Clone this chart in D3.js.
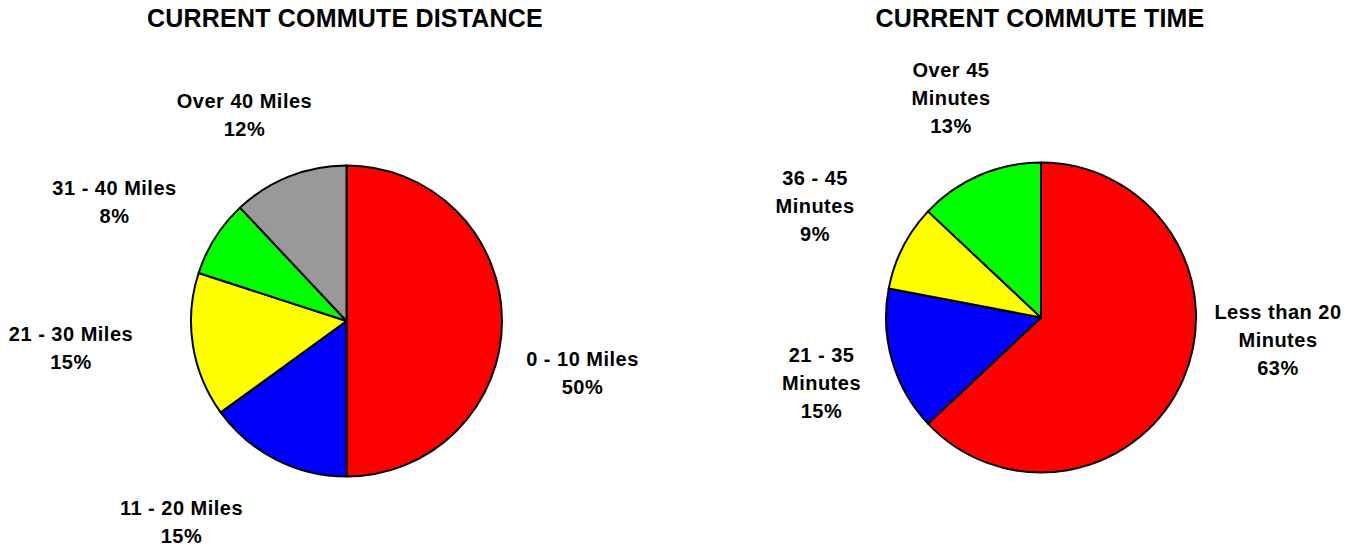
<!DOCTYPE html>
<html>
<head>
<meta charset="utf-8">
<script src="https://cdn.jsdelivr.net/npm/d3@7"></script>
<style>
  html, body { margin: 0; padding: 0; background: #fff; }
  svg { display: block; }
  text { font-family: "Liberation Sans", Arial, sans-serif; font-weight: bold; fill: #000; }
</style>
</head>
<body>
<svg id="chart" width="1362" height="548"></svg>
<script>
// ---- Data ----
const distanceCategories = ["0 - 10 Miles", "11 - 20 Miles", "21 - 30 Miles", "31 - 40 Miles", "Over 40 Miles"];
const distanceValues = [50, 15, 15, 8, 12];
const distanceColors = ["#ff0000", "#0000ff", "#ffff00", "#00ff00", "#999999"];

const timeCategories = ["Less than 20 Minutes", "21 - 35 Minutes", "36 - 45 Minutes", "Over 45 Minutes"];
const timeValues = [63, 15, 9, 13];
const timeColors = ["#ff0000", "#0000ff", "#ffff00", "#00ff00"];

// label text lines (category split as in the original)
const distanceLabelLines = [["0 - 10 Miles"], ["11 - 20 Miles"], ["21 - 30 Miles"], ["31 - 40 Miles"], ["Over 40 Miles"]];
const timeLabelLines = [["Less than 20", "Minutes"], ["21 - 35", "Minutes"], ["36 - 45", "Minutes"], ["Over 45", "Minutes"]];

// ---- Layout (positions kept separate from data) ----
const distanceLayout = {
  title: "CURRENT COMMUTE DISTANCE", titleX: 345, titleY: 27,
  cx: 346.5, cy: 321, r: 155.5,
  labelOffsets: [[236, 45], [-165, 194], [-275.5, 20], [-232, -126], [-102, -213]]
};
const timeLayout = {
  title: "CURRENT COMMUTE TIME", titleX: 1040, titleY: 27,
  cx: 1041, cy: 317.5, r: 155,
  labelOffsets: [[237, 1.5], [-219.5, 44.5], [-226, -132.5], [-90, -240.5]]
};

const svg = d3.select("#chart");
svg.append("rect").attr("width", 1362).attr("height", 548).attr("fill", "#fff");

function drawPie(categories, values, colors, lines, layout) {
  const g = svg.append("g");
  g.append("text")
    .attr("x", layout.titleX).attr("y", layout.titleY)
    .attr("text-anchor", "middle")
    .style("font-size", "25px")
    .style("letter-spacing", "0.2px")
    .text(layout.title);

  const data = categories.map((c, i) => ({ cat: c, value: values[i], color: colors[i], lines: lines[i], off: layout.labelOffsets[i] }));
  const pie = d3.pie().value(d => d.value).sort(null);
  const arc = d3.arc().innerRadius(0).outerRadius(layout.r);
  const arcs = pie(data);

  const pg = g.append("g").attr("transform", `translate(${layout.cx},${layout.cy})`);
  pg.selectAll("path").data(arcs).join("path")
    .attr("d", arc)
    .attr("fill", d => d.data.color)
    .attr("stroke", "#000")
    .attr("stroke-width", 2)
    .attr("stroke-linejoin", "round");

  const lg = pg.selectAll("g.label").data(arcs).join("g").attr("class", "label");
  lg.each(function(d) {
    const t = d3.select(this).append("text")
      .attr("text-anchor", "middle")
      .style("font-size", "20px")
      .style("letter-spacing", "0.5px");
    const all = d.data.lines.concat([d.data.value + "%"]);
    all.forEach((s, i) => {
      t.append("tspan")
        .attr("x", d.data.off[0])
        .attr("y", d.data.off[1] + i * 28)
        .text(s);
    });
  });
}

drawPie(distanceCategories, distanceValues, distanceColors, distanceLabelLines, distanceLayout);
drawPie(timeCategories, timeValues, timeColors, timeLabelLines, timeLayout);
</script>
</body>
</html>
